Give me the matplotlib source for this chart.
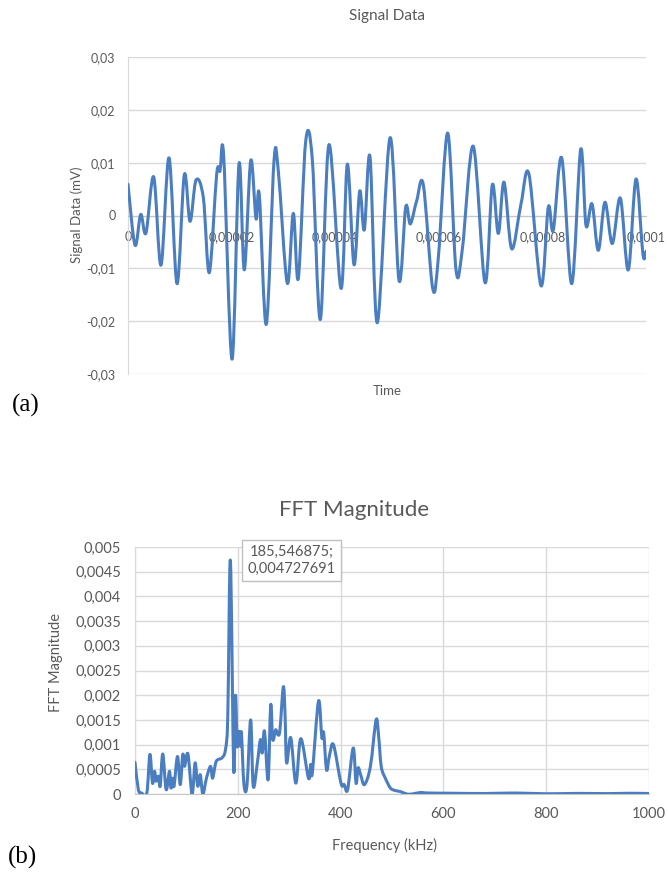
import numpy as np
import matplotlib
matplotlib.use("Agg")
import matplotlib.pyplot as plt
from matplotlib.path import Path
from matplotlib.patches import PathPatch

plt.rcParams['font.family'] = ['Lato', 'DejaVu Sans']

# signal data (time in microseconds, value in mV)
sig_t_us = [0.0, 1.35, 2.45, 3.47, 4.96, 6.37, 7.92, 9.46, 10.87, 11.97, 13.13, 14.54,
            15.70, 17.12, 17.76, 18.47, 20.08, 21.43, 22.45, 23.69, 24.71, 25.35,
            26.70, 28.19, 29.02, 30.75, 31.91, 32.88, 34.31, 35.58, 37.12, 38.80,
            41.12, 42.34, 43.63, 44.73, 45.62, 46.72, 48.13, 50.58, 52.32, 53.61,
            54.50, 55.73, 57.01, 58.82, 59.90, 61.72, 63.32, 64.54, 66.66, 68.92,
            70.33, 71.49, 72.59, 74.07, 75.87, 77.41, 79.73, 81.14, 82.10, 83.73,
            85.66, 87.39, 88.42, 89.58, 90.79, 92.08, 93.49, 95.04, 96.58, 98.07,
            99.40, 100.0]
sig_v = [0.0059, -0.0056, 0.0002, -0.0033, 0.0073, -0.0094, 0.0109, -0.0129, 0.0077,
         -0.0011, 0.0067, 0.0034, -0.0108, 0.0078, 0.0084, 0.0113, -0.0272, 0.0098,
         -0.0103, 0.0104, -0.0006, 0.0039, -0.0206, 0.0104, 0.0084, -0.0128, 0.0004,
         -0.0119, 0.0141, 0.0106, -0.0197, 0.0134, -0.0138, 0.0097, -0.0093, 0.0046,
         -0.0027, 0.0111, -0.0203, 0.0147, -0.0123, 0.0016, -0.0016, 0.0028, 0.0058,
         -0.0138, -0.0081, 0.0156, -0.0103, -0.0064, 0.0131, -0.0127, 0.0058, -0.0034,
         0.0063, -0.0063, 0.0022, 0.0078, -0.0133, 0.0016, -0.0028, 0.0109, -0.0129,
         0.0125, -0.0019, 0.0022, -0.0066, 0.0025, -0.0053, 0.0033, -0.0103, 0.0069,
         -0.0073, -0.0068]

sig_xticks = [0, 0.00002, 0.00004, 0.00006, 0.00008, 0.0001]
sig_xlabels = ['0', '0,00002', '0,00004', '0,00006', '0,00008', '0,0001']
sig_yticks = [-0.03, -0.02, -0.01, 0, 0.01, 0.02, 0.03]
sig_ylabels = ['-0,03', '-0,02', '-0,01', '0', '0,01', '0,02', '0,03']

# FFT magnitude (frequency in kHz)
fft_f = [0, 6.5, 13, 23, 29, 34, 38, 41, 45.6, 49, 54, 60.6, 67, 70, 73.6, 76, 82.7,
         88, 93, 96.4, 103, 111, 117, 122, 127, 132, 139, 147, 151, 158, 169, 176,
         180.5, 185.546875, 192, 195.5, 198.7, 202, 205, 207, 212, 218, 225, 230,
         238, 244, 247.6, 252, 259, 264, 268, 273.6, 278, 282, 288.6, 292, 295, 303,
         313, 322.5, 337.5, 342, 345, 357, 363.5, 367, 372.6, 378, 386, 400.7, 407,
         413.7, 424.5, 430, 434, 439, 446.5, 458, 469, 474, 479, 487, 497, 506.5,
         516, 529, 539, 555, 571, 620, 680, 740, 800, 860, 920, 960, 1000]
fft_v = [0.00064, 0.00009, 0.00002, 0.00002, 0.0008, 0.00022, 0.00046, 0.00026,
         0.00036, 0.00016, 0.00081, 0.00009, 0.00046, 0.00012, 0.00032, 0.00016,
         0.00076, 0.00019, 0.0008, 0.00056, 0.00081, 0.0, 0.00063, 0.00016, 0.00039,
         0.0, 0.00032, 0.00056, 0.00032, 0.00066, 0.00073, 0.0009, 0.00158,
         0.004727691, 0.0005, 0.002, 0.00097, 0.00127, 0.00097, 0.00124, 0.00019,
         0.00019, 0.0015, 0.00016, 0.00063, 0.0011, 0.00083, 0.00127, 0.00029, 0.0018,
         0.0011, 0.0013, 0.0012, 0.0013, 0.00217, 0.00158, 0.00063, 0.00114, 0.00022,
         0.00112, 0.00032, 0.0006, 0.00043, 0.00188, 0.00114, 0.00124, 0.00049,
         0.00076, 0.001, 0.00022, 0.00019, 0.00009, 0.00093, 0.00022, 0.00053, 0.00039,
         0.00019, 0.00056, 0.0015, 0.00117, 0.00056, 0.00032, 0.00012, 0.00007,
         0.00005, 0.0, 0.0, 0.00003, 0.00002, 0.000015, 0.00001, 0.00002, 0.000005,
         0.000012, 0.000008, 0.000015, 0.00001]

fft_xticks = [0, 200, 400, 600, 800, 1000]
fft_yticks = [0, 0.0005, 0.001, 0.0015, 0.002, 0.0025, 0.003, 0.0035, 0.004, 0.0045, 0.005]
fft_ylabels = ['0', '0,0005', '0,001', '0,0015', '0,002', '0,0025', '0,003', '0,0035',
               '0,004', '0,0045', '0,005']
peak_f = 185.546875
peak_v = 0.004727691
peak_text = '185,546875;\n0,004727691'

LINE = '#4a7ec0'
GRID = '#d9d9d9'
TXT = '#595959'


def smooth_path(x, y):
    # excel style smoothed line: cubic bezier through every point
    x = np.asarray(x, float)
    y = np.asarray(y, float)
    n = len(x)
    verts = [(x[0], y[0])]
    codes = [Path.MOVETO]
    for i in range(n - 1):
        i0 = max(i - 1, 0)
        i3 = min(i + 2, n - 1)
        c1 = (x[i] + (x[i + 1] - x[i0]) / 6, y[i] + (y[i + 1] - y[i0]) / 6)
        c2 = (x[i + 1] - (x[i3] - x[i]) / 6, y[i + 1] - (y[i3] - y[i]) / 6)
        verts += [c1, c2, (x[i + 1], y[i + 1])]
        codes += [Path.CURVE4] * 3
    return Path(verts, codes)


fig = plt.figure(figsize=(6.68, 8.75), dpi=100)

# ---- (a) signal data
ax1 = fig.add_axes([128 / 668, 1 - 374 / 875, 518 / 668, 317 / 875])
t_sec = np.array(sig_t_us) * 1e-6
ax1.add_patch(PathPatch(smooth_path(t_sec, sig_v), fill=False, edgecolor=LINE,
                        lw=2.2, zorder=3, capstyle='round', joinstyle='round'))
ax1.set_xlim(0, 0.0001)
ax1.set_ylim(-0.03, 0.03)
ax1.set_xticks(sig_xticks)
ax1.set_xticklabels(sig_xlabels)
ax1.set_yticks(sig_yticks)
ax1.set_yticklabels(sig_ylabels)
ax1.grid(True, axis='y', color=GRID, lw=1.0)
ax1.set_axisbelow(True)
ax1.spines['top'].set_visible(False)
ax1.spines['right'].set_visible(False)
ax1.spines['left'].set_color(GRID)
ax1.spines['bottom'].set_position(('data', 0))
ax1.spines['bottom'].set_color('#c6c6c6')
ax1.tick_params(axis='x', length=0, pad=11, labelsize=9, labelcolor=TXT)
ax1.tick_params(axis='y', length=0, pad=9, labelsize=9, labelcolor=TXT)

fig.text(387 / 668, 1 - 16 / 875, 'Signal Data', ha='center', va='center',
         fontsize=11, color=TXT)
fig.text(387 / 668, 1 - 391 / 875, 'Time', ha='center', va='center',
         fontsize=9.5, color=TXT)
fig.text(77 / 668, 1 - 215 / 875, 'Signal Data (mV)', ha='center', va='center',
         rotation=90, fontsize=9.5, color=TXT)
fig.text(12 / 668, 1 - 405 / 875, '(a)', ha='left', va='center',
         fontsize=18, family='Liberation Serif', color='black')

# ---- (b) FFT magnitude
ax2 = fig.add_axes([135 / 668, 1 - 794 / 875, 514 / 668, 247 / 875])
ax2.add_patch(PathPatch(smooth_path(fft_f, fft_v), fill=False, edgecolor=LINE,
                        lw=2.2, zorder=3, capstyle='round', joinstyle='round'))
ax2.set_xlim(0, 1000)
ax2.set_ylim(0, 0.005)
ax2.set_xticks(fft_xticks)
ax2.set_yticks(fft_yticks)
ax2.set_yticklabels(fft_ylabels)
ax2.grid(True, color=GRID, lw=1.0)
ax2.set_axisbelow(True)
for s in ['top', 'right']:
    ax2.spines[s].set_visible(False)
ax2.spines['left'].set_color(GRID)
ax2.spines['bottom'].set_color('#c6c6c6')
ax2.tick_params(axis='x', length=0, pad=9, labelsize=10.5, labelcolor=TXT)
ax2.tick_params(axis='y', length=0, pad=10, labelsize=10.5, labelcolor=TXT)

ax2.annotate(peak_text, xy=(peak_f, peak_v), xytext=(44, 0), textcoords='offset points',
             ha='center', va='center', fontsize=10.5, color=TXT, linespacing=1.3,
             bbox=dict(boxstyle='square,pad=0.35', fc='white', ec='#bfbfbf', lw=1.0),
             zorder=5)

fig.text(354 / 668, 1 - 510 / 875, 'FFT Magnitude', ha='center', va='center',
         fontsize=16, color=TXT)
fig.text(385 / 668, 1 - 845 / 875, 'Frequency (kHz)', ha='center', va='center',
         fontsize=10.5, color=TXT)
fig.text(56 / 668, 1 - 662 / 875, 'FFT Magnitude', ha='center', va='center',
         rotation=90, fontsize=10.5, color=TXT)
fig.text(8 / 668, 1 - 857 / 875, '(b)', ha='left', va='center',
         fontsize=18, family='Liberation Serif', color='black')

fig.savefig('out.png', dpi=100)
